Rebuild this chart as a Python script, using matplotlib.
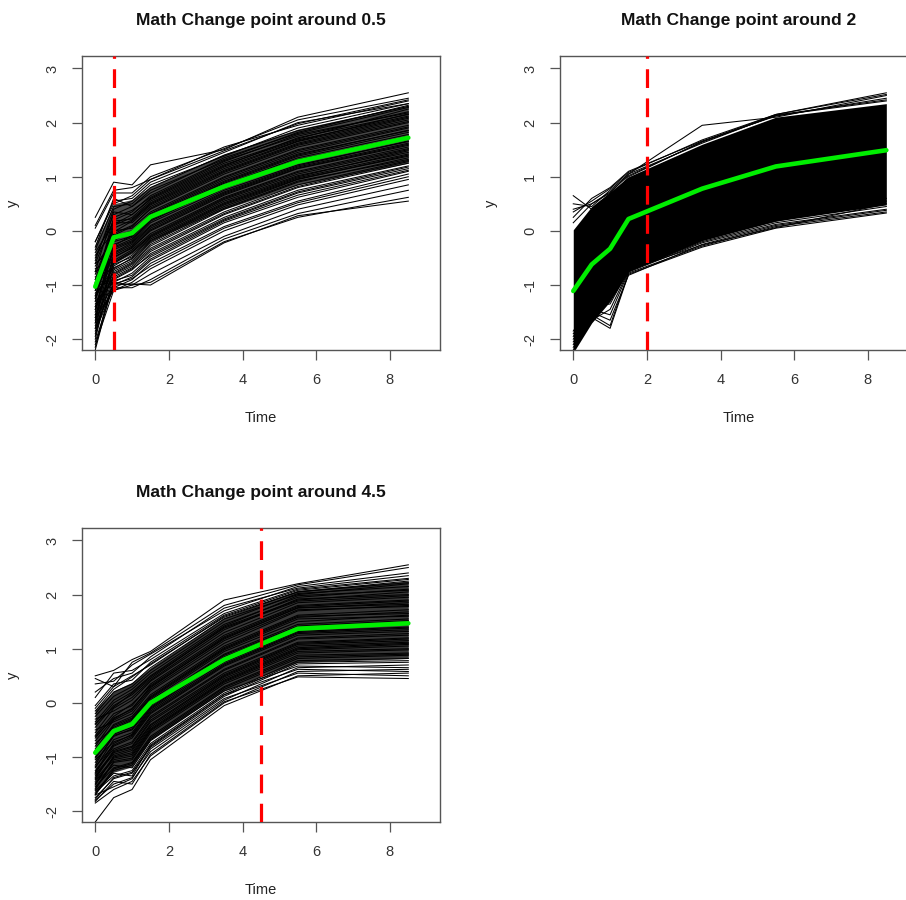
import matplotlib
matplotlib.use("Agg")
import matplotlib.pyplot as plt
import numpy as np

plt.rcParams['font.family'] = ['Liberation Sans', 'DejaVu Sans']

time = [0, 0.5, 1, 1.5, 3.5, 5.5, 8.5]

titles = ["Math Change point around 0.5", "Math Change point around 2",
          "Math Change point around 4.5"]
change_points = [0.5, 2, 4.5]

# ---------------- Panel 1: dense core + individual trajectories ----------------
p1_core_hi = [-0.25, 0.50, 0.58, 0.82, 1.42, 1.88, 2.32]
p1_core_lo = [-1.95, -0.60, -0.42, -0.18, 0.40, 0.85, 1.25]
p1_lines = [
    [0.25, 0.90, 0.85, 1.22, 1.50, 2.10, 2.55],
    [0.10, 0.75, 0.80, 0.95, 1.55, 1.95, 2.40],
    [-0.20, 0.55, 0.60, 0.90, 1.45, 2.00, 2.35],
    [-0.35, 0.45, 0.50, 0.80, 1.40, 1.85, 2.30],
    [-0.50, 0.30, 0.45, 0.70, 1.35, 1.80, 2.28],
    [-0.60, 0.20, 0.35, 0.65, 1.30, 1.75, 2.20],
    [-0.75, 0.35, 0.30, 0.60, 1.25, 1.70, 2.25],
    [-0.90, 0.10, 0.25, 0.55, 1.20, 1.72, 2.15],
    [-1.10, 0.05, 0.20, 0.50, 1.15, 1.65, 2.10],
    [-0.40, 0.15, 0.15, 0.45, 1.10, 1.60, 2.05],
    [-1.30, -0.05, 0.10, 0.40, 1.05, 1.55, 2.00],
    [-0.80, 0.00, 0.05, 0.35, 1.00, 1.50, 1.95],
    [-1.50, -0.10, 0.00, 0.30, 0.95, 1.45, 1.90],
    [-0.65, -0.15, -0.05, 0.28, 0.92, 1.42, 1.85],
    [-1.20, -0.20, -0.10, 0.25, 0.88, 1.38, 1.82],
    [-1.70, -0.25, -0.12, 0.22, 0.85, 1.35, 1.78],
    [-0.95, -0.30, -0.15, 0.18, 0.82, 1.30, 1.75],
    [-1.40, -0.35, -0.20, 0.15, 0.78, 1.28, 1.70],
    [-1.05, -0.40, -0.22, 0.10, 0.75, 1.22, 1.65],
    [-1.80, -0.45, -0.28, 0.05, 0.70, 1.18, 1.62],
    [-0.70, -0.50, -0.30, 0.00, 0.66, 1.15, 1.58],
    [-1.25, -0.55, -0.35, -0.05, 0.62, 1.10, 1.55],
    [-1.60, -0.60, -0.40, -0.10, 0.58, 1.05, 1.50],
    [-2.00, -0.65, -0.45, -0.12, 0.55, 1.02, 1.45],
    [-0.85, -0.70, -0.50, -0.18, 0.50, 0.98, 1.42],
    [-1.45, -0.72, -0.55, -0.22, 0.45, 0.95, 1.40],
    [-1.15, -0.78, -0.60, -0.28, 0.40, 0.90, 1.35],
    [-1.90, -0.80, -0.62, -0.32, 0.35, 0.85, 1.30],
    [-1.35, -0.85, -0.68, -0.38, 0.30, 0.80, 1.25],
    [-2.20, -0.90, -0.72, -0.42, 0.25, 0.75, 1.20],
    [-1.00, -0.95, -0.78, -0.48, 0.20, 0.70, 1.15],
    [-1.55, -1.00, -0.85, -0.55, 0.15, 0.62, 1.10],
    [-1.75, -1.05, -0.90, -0.60, 0.08, 0.55, 1.05],
    [-2.10, -1.10, -0.95, -0.70, 0.00, 0.48, 0.95],
    [-1.30, -0.95, -1.00, -0.80, -0.10, 0.40, 0.85],
    [-1.85, -1.05, -1.05, -0.90, -0.15, 0.32, 0.75],
    [-1.60, -1.10, -1.00, -0.95, -0.20, 0.25, 0.62],
    [-2.05, -1.00, -0.98, -1.00, -0.22, 0.28, 0.55],
    [-0.55, 0.40, 0.55, 0.85, 1.38, 1.90, 2.35],
    [-0.30, 0.60, 0.45, 0.75, 1.32, 1.82, 2.32],
    [-1.00, 0.25, 0.38, 0.62, 1.28, 1.78, 2.18],
    [-1.25, 0.12, 0.30, 0.58, 1.22, 1.68, 2.12],
    [-0.45, -0.02, 0.18, 0.48, 1.12, 1.62, 2.08],
    [-1.65, -0.08, 0.08, 0.42, 1.08, 1.58, 2.02],
    [-0.90, -0.18, -0.02, 0.32, 0.98, 1.48, 1.92],
    [-1.45, -0.28, -0.08, 0.24, 0.90, 1.40, 1.86],
    [-0.60, -0.32, -0.18, 0.20, 0.84, 1.32, 1.74],
    [-1.95, -0.42, -0.25, 0.08, 0.72, 1.20, 1.66],
    [-1.10, -0.48, -0.32, 0.02, 0.68, 1.16, 1.60],
    [-1.55, -0.58, -0.38, -0.08, 0.60, 1.08, 1.52],
    [-0.75, -0.62, -0.48, -0.15, 0.52, 1.00, 1.48],
    [-1.20, -0.68, -0.52, -0.20, 0.48, 0.96, 1.38],
    [-1.70, -0.75, -0.58, -0.25, 0.42, 0.92, 1.32],
    [-2.15, -0.82, -0.65, -0.35, 0.32, 0.82, 1.28],
    [-1.40, -0.88, -0.70, -0.45, 0.22, 0.72, 1.18],
    [-0.95, -0.92, -0.82, -0.52, 0.18, 0.66, 1.12],
    [-1.80, -0.98, -0.88, -0.65, 0.05, 0.52, 1.00],
    [-0.20, 0.50, 0.65, 0.95, 1.48, 1.98, 2.42],
    [0.05, 0.70, 0.70, 1.00, 1.52, 2.05, 2.45],
    [-1.05, 0.18, 0.22, 0.52, 1.18, 1.66, 2.16],
]
p1_mean = [-1.03, -0.12, -0.04, 0.26, 0.82, 1.28, 1.72]

# ---------------- Panel 2: dense band + edge trajectories ----------------
p2_band_hi = [0.02, 0.45, 0.72, 1.00, 1.60, 2.10, 2.35]
p2_band_lo = [-2.25, -1.70, -1.30, -0.75, -0.18, 0.18, 0.48]
p2_lines = [
    [-2.20, -1.60, -1.80, -0.80, -0.30, 0.05, 0.33],
    [-2.10, -1.55, -1.75, -0.78, -0.28, 0.08, 0.35],
    [-2.00, -1.50, -1.65, -0.82, -0.25, 0.10, 0.38],
    [-1.90, -1.45, -1.55, -0.76, -0.22, 0.12, 0.40],
    [-2.15, -1.65, -1.45, -0.74, -0.20, 0.15, 0.45],
    [-1.95, -1.40, -1.35, -0.72, -0.26, 0.06, 0.50],
    [-2.05, -1.58, -1.25, -0.70, -0.15, 0.18, 0.55],
    [-1.85, -1.35, -1.20, -0.68, -0.12, 0.22, 0.60],
    [0.40, 0.50, 0.70, 1.05, 1.95, 2.10, 2.50],
    [0.65, 0.40, 0.60, 1.00, 1.65, 2.15, 2.55],
    [0.35, 0.55, 0.78, 1.08, 1.68, 2.15, 2.52],
    [0.25, 0.60, 0.80, 1.10, 1.66, 2.12, 2.45],
    [0.50, 0.45, 0.75, 1.05, 1.62, 2.14, 2.42],
    [0.15, 0.50, 0.72, 1.02, 1.64, 2.13, 2.40],
]
p2_mean = [-1.11, -0.62, -0.33, 0.22, 0.78, 1.19, 1.49]

# ---------------- Panel 3: dense core + individual trajectories ----------------
p3_core_hi = [-0.12, 0.22, 0.38, 0.65, 1.58, 2.08, 2.25]
p3_core_lo = [-1.68, -1.28, -1.18, -0.68, 0.22, 0.75, 0.82]
p3_lines = [
    [0.50, 0.60, 0.80, 0.95, 1.90, 2.20, 2.55],
    [0.35, 0.40, 0.70, 0.90, 1.70, 2.15, 2.40],
    [0.10, 0.55, 0.60, 0.80, 1.65, 2.10, 2.30],
    [-0.10, 0.30, 0.50, 0.70, 1.60, 2.05, 2.25],
    [-0.20, 0.20, 0.35, 0.65, 1.55, 2.00, 2.20],
    [-0.35, 0.05, 0.25, 0.55, 1.45, 1.95, 2.10],
    [-0.45, -0.05, 0.15, 0.45, 1.40, 1.90, 2.05],
    [-0.30, -0.15, 0.05, 0.40, 1.30, 1.85, 1.95],
    [-0.60, -0.20, -0.05, 0.35, 1.25, 1.80, 1.90],
    [-0.70, -0.30, -0.10, 0.28, 1.20, 1.75, 1.85],
    [-0.50, -0.35, -0.20, 0.22, 1.10, 1.70, 1.80],
    [-0.85, -0.40, -0.25, 0.15, 1.05, 1.62, 1.72],
    [-0.75, -0.45, -0.30, 0.10, 1.00, 1.58, 1.68],
    [-1.00, -0.50, -0.35, 0.05, 0.95, 1.50, 1.62],
    [-0.90, -0.55, -0.40, 0.00, 0.90, 1.45, 1.55],
    [-1.10, -0.62, -0.48, -0.05, 0.85, 1.40, 1.50],
    [-1.20, -0.68, -0.55, -0.10, 0.80, 1.35, 1.45],
    [-1.05, -0.72, -0.60, -0.15, 0.72, 1.30, 1.38],
    [-1.30, -0.80, -0.65, -0.20, 0.68, 1.25, 1.32],
    [-1.25, -0.85, -0.72, -0.25, 0.62, 1.20, 1.28],
    [-1.40, -0.90, -0.80, -0.32, 0.55, 1.12, 1.20],
    [-1.35, -0.95, -0.85, -0.40, 0.50, 1.08, 1.15],
    [-1.50, -1.00, -0.92, -0.45, 0.45, 1.02, 1.10],
    [-1.45, -1.05, -0.98, -0.50, 0.40, 0.98, 1.05],
    [-1.60, -1.10, -1.05, -0.55, 0.35, 0.92, 0.98],
    [-1.55, -1.20, -1.10, -0.62, 0.30, 0.88, 0.92],
    [-1.70, -1.25, -1.15, -0.68, 0.25, 0.82, 0.88],
    [-1.65, -1.35, -1.25, -0.75, 0.18, 0.78, 0.82],
    [-1.75, -1.40, -1.30, -0.82, 0.12, 0.72, 0.75],
    [-1.80, -1.50, -1.38, -0.90, 0.05, 0.65, 0.70],
    [-1.85, -1.60, -1.45, -0.98, 0.00, 0.58, 0.62],
    [-2.20, -1.75, -1.60, -1.05, -0.05, 0.50, 0.55],
    [-1.82, -1.45, -1.50, -0.95, 0.02, 0.48, 0.45],
    [-1.70, -1.55, -1.40, -0.85, 0.08, 0.55, 0.50],
    [-1.62, -1.30, -1.35, -0.78, 0.15, 0.62, 0.58],
    [-1.48, -1.15, -1.20, -0.70, 0.22, 0.68, 0.65],
    [0.20, 0.45, 0.55, 0.85, 1.75, 2.12, 2.35],
    [-0.05, 0.35, 0.42, 0.75, 1.62, 2.08, 2.28],
    [-0.25, 0.12, 0.30, 0.60, 1.50, 2.02, 2.15],
    [-0.40, 0.00, 0.20, 0.50, 1.42, 1.98, 2.08],
    [-0.55, -0.10, 0.10, 0.42, 1.35, 1.92, 2.00],
    [-0.65, -0.25, -0.02, 0.32, 1.22, 1.78, 1.88],
    [-0.80, -0.32, -0.15, 0.25, 1.15, 1.72, 1.78],
    [-0.95, -0.42, -0.28, 0.12, 1.02, 1.60, 1.65],
    [-1.15, -0.58, -0.45, -0.02, 0.88, 1.42, 1.52],
    [-1.28, -0.75, -0.58, -0.12, 0.75, 1.32, 1.40],
    [-1.38, -0.88, -0.75, -0.28, 0.60, 1.18, 1.25],
    [-1.52, -0.98, -0.88, -0.42, 0.48, 1.05, 1.12],
    [-1.58, -1.08, -1.02, -0.52, 0.38, 0.95, 1.00],
    [-1.68, -1.22, -1.12, -0.65, 0.28, 0.85, 0.90],
    [-1.78, -1.38, -1.28, -0.80, 0.15, 0.75, 0.78],
    [-0.15, 0.25, 0.48, 0.72, 1.58, 2.05, 2.22],
    [-0.38, -0.08, 0.18, 0.48, 1.38, 1.88, 1.98],
    [-0.62, -0.28, -0.12, 0.30, 1.18, 1.76, 1.82],
    [-0.88, -0.48, -0.32, 0.08, 0.98, 1.55, 1.60],
    [-1.02, -0.60, -0.50, -0.08, 0.82, 1.38, 1.48],
    [-1.18, -0.78, -0.62, -0.18, 0.70, 1.28, 1.35],
    [-1.32, -0.92, -0.82, -0.35, 0.52, 1.10, 1.18],
    [-1.42, -1.02, -0.95, -0.48, 0.42, 1.00, 1.08],
    [0.45, 0.30, 0.75, 0.92, 1.80, 2.18, 2.50],
]
p3_mean = [-0.92, -0.52, -0.39, 0.00, 0.80, 1.37, 1.47]

x_ticks = [0, 2, 4, 6, 8]
y_ticks = [-2, -1, 0, 1, 2, 3]

W, H = 906, 900
fig = plt.figure(figsize=(W / 100, H / 100), dpi=100)


def make_ax(left, top, right, bottom):
    return fig.add_axes([left / W, 1 - bottom / H, (right - left) / W, (bottom - top) / H])


axes = [make_ax(82, 56, 440, 350), make_ax(560, 56, 918, 350), make_ax(82, 528, 440, 822)]

panels = [
    (p1_lines, p1_core_lo, p1_core_hi, 0.72, p1_mean),
    (p2_lines, p2_band_lo, p2_band_hi, 1.0, p2_mean),
    (p3_lines, p3_core_lo, p3_core_hi, 0.78, p3_mean),
]

for ax, (lines, blo, bhi, alpha, mean), title, cp in zip(axes, panels, titles, change_points):
    ax.fill_between(time, blo, bhi, color='black', alpha=alpha, linewidth=0, zorder=1)
    for ln in lines:
        ax.plot(time, ln, color='black', linewidth=0.75, zorder=2)
    ax.plot(time, mean, color='#00ee00', linewidth=3.3, zorder=4, solid_capstyle='round')
    lw = 2.3
    ax.axvline(cp, color='#ff0000', linewidth=lw, dashes=(13.5 / lw, 7.5 / lw), zorder=5)
    ax.set_xlim(-0.36, 9.36)
    ax.set_ylim(-2.2, 3.23)
    ax.set_xticks(x_ticks)
    ax.set_yticks(y_ticks)
    ax.set_yticklabels([str(v) for v in y_ticks], rotation=90, va='center')
    ax.tick_params(axis='both', direction='out', length=7.5, width=0.9, color='#555555',
                   labelsize=10.5, labelcolor='#333333')
    ax.tick_params(axis='x', pad=9)
    ax.tick_params(axis='y', pad=9)
    for s in ax.spines.values():
        s.set_color('#555555')
        s.set_linewidth(1.0)
    ax.set_title(title, fontsize=12.5, fontweight='bold', color='#111111', pad=22)
    ax.set_xlabel('Time', fontsize=10.5, color='#222222', labelpad=17)
    ax.set_ylabel('y', fontsize=10.5, color='#222222', labelpad=18)

fig.savefig('out.png', dpi=100)
